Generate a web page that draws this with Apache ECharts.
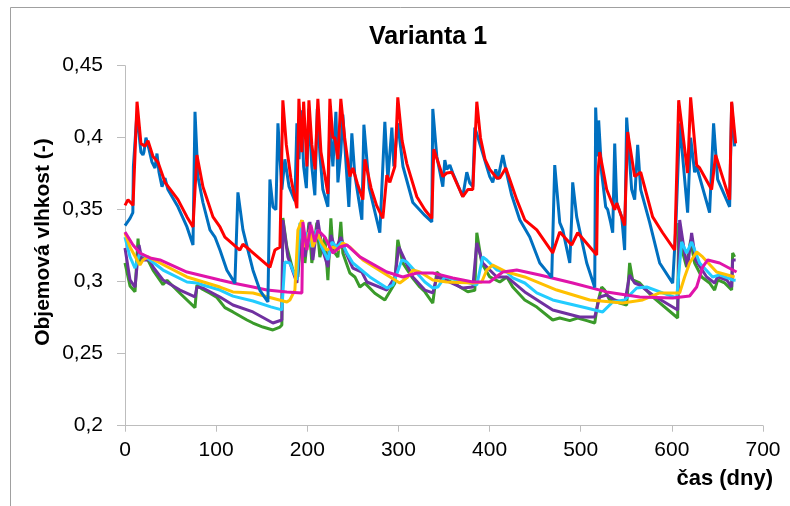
<!DOCTYPE html>
<html><head><meta charset="utf-8">
<script src="https://cdn.jsdelivr.net/npm/echarts@6/dist/echarts.min.js"></script>
<style>html,body{margin:0;padding:0;background:#fff}#c{width:790px;height:506px}</style>
</head><body><div id="c"></div>
<script>
// Data: [day, volumetric moisture]
const blueData = [[0,0.339],[5.5,0.344],[8.6,0.348],[9.2,0.38],[11,0.381],[13,0.416],[17.5,0.39],[19.7,0.388],[20.8,0.39],[23,0.4],[26.3,0.392],[29.6,0.383],[32.9,0.379],[35.1,0.389],[37.3,0.376],[40.6,0.366],[43.9,0.372],[47.1,0.364],[58.1,0.352],[68,0.338],[74.6,0.3255],[76.8,0.418],[80,0.373],[85.5,0.355],[93.2,0.336],[98.7,0.331],[104.2,0.322],[111.8,0.308],[120.6,0.299],[123.9,0.362],[129.4,0.336],[134.9,0.322],[140.4,0.308],[148,0.294],[156.8,0.286],[159,0.371],[162.3,0.352],[165.6,0.35],[167.8,0.41],[172.1,0.364],[175.4,0.385],[180,0.366],[186.4,0.356],[188.6,0.41],[191,0.385],[193,0.419],[196,0.38],[199,0.365],[201.8,0.42],[205,0.38],[208.3,0.36],[211,0.42],[214,0.387],[217.1,0.364],[222.6,0.352],[224.8,0.41],[228.1,0.38],[231.4,0.418],[233.6,0.369],[236.8,0.39],[239,0.416],[245.6,0.352],[248.9,0.403],[252,0.375],[259.9,0.343],[262.1,0.409],[268,0.365],[279.6,0.334],[285.1,0.411],[288.4,0.371],[292.8,0.407],[295,0.38],[299.3,0.41],[305,0.38],[315.8,0.355],[329,0.346],[336.6,0.3415],[337.7,0.42],[342.1,0.387],[348.7,0.366],[350.9,0.3845],[353.1,0.378],[356.4,0.381],[359.6,0.3755],[370.6,0.359],[375,0.376],[378.3,0.3685],[381.6,0.366],[383.8,0.407],[387.1,0.4005],[400.2,0.373],[403.5,0.369],[406.8,0.378],[409,0.371],[414.5,0.388],[417.8,0.378],[424.3,0.36],[433.1,0.343],[444.1,0.331],[455.1,0.313],[468.2,0.303],[471.5,0.381],[477,0.341],[480.3,0.336],[488,0.313],[490.1,0.345],[491.2,0.369],[495.6,0.345],[506.6,0.313],[515.4,0.296],[516.4,0.421],[518.6,0.387],[519.7,0.412],[523,0.3755],[527.4,0.352],[529.6,0.35],[532.9,0.341],[535.1,0.334],[537.3,0.396],[539.5,0.355],[545,0.345],[548.2,0.322],[550.4,0.414],[555.9,0.364],[559.2,0.357],[562.5,0.395],[565.8,0.364],[575.7,0.341],[586.6,0.313],[600.9,0.299],[604.2,0.336],[608.6,0.41],[617.3,0.348],[620.6,0.40],[625,0.376],[627.2,0.38],[641.4,0.348],[645.8,0.41],[650.2,0.371],[663.4,0.352],[665.6,0.424],[668.9,0.394]];

const redData = [[0,0.353],[3.3,0.357],[8.8,0.353],[13.2,0.425],[17.5,0.396],[21.9,0.394],[25.2,0.398],[30.7,0.387],[36.2,0.383],[43.9,0.369],[58.1,0.357],[68,0.345],[74.6,0.338],[78.9,0.388],[85.5,0.366],[96.5,0.345],[104.2,0.338],[109.6,0.331],[126,0.322],[129.4,0.326],[137,0.322],[159,0.31],[164.5,0.322],[170,0.324],[173.2,0.426],[177,0.395],[182,0.372],[188.6,0.351],[190.8,0.427],[194,0.39],[196,0.425],[199.6,0.38],[201.8,0.426],[205,0.395],[208.5,0.378],[211.6,0.427],[215,0.39],[222.6,0.361],[224.8,0.427],[228,0.40],[230.3,0.40],[233.6,0.385],[236.8,0.427],[241,0.40],[246.7,0.373],[250,0.379],[255,0.368],[261,0.357],[263.2,0.385],[270,0.365],[276,0.353],[282.9,0.344],[287.3,0.374],[290.6,0.369],[296.1,0.38],[299.3,0.428],[304,0.398],[309.2,0.382],[320.2,0.359],[329,0.35],[336.6,0.344],[338.8,0.392],[348.7,0.373],[353.1,0.3755],[358.6,0.376],[370.6,0.359],[376.1,0.364],[381.6,0.364],[386,0.425],[390,0.4],[395,0.385],[400.2,0.378],[407.9,0.372],[411.2,0.372],[417.8,0.379],[429.8,0.357],[438.6,0.343],[451.8,0.336],[469.3,0.32],[477,0.3345],[490.1,0.3255],[496.7,0.334],[517.5,0.3185],[518.6,0.373],[520.8,0.39],[528.5,0.364],[537.3,0.35],[539.5,0.3546],[548.2,0.339],[551.5,0.404],[559.2,0.373],[565.8,0.376],[578.9,0.345],[589.9,0.334],[603.1,0.322],[607.5,0.426],[617.3,0.3755],[620.6,0.428],[627.2,0.381],[630.5,0.379],[643.6,0.364],[648,0.388],[663.4,0.357],[665.6,0.425],[670,0.396]];

const greenData = [[0,0.313],[5.5,0.297],[11,0.293],[14.3,0.33],[16.4,0.313],[18.6,0.317],[25.2,0.315],[30.7,0.308],[41.7,0.298],[46.1,0.301],[60.3,0.292],[76.8,0.282],[78.9,0.2977],[84.4,0.295],[93.2,0.292],[100.9,0.289],[109.6,0.282],[118.4,0.279],[133.8,0.2734],[140.4,0.2713],[151.3,0.2685],[162.3,0.2665],[170,0.2685],[172.1,0.27],[173.2,0.3442],[177.6,0.324],[184.2,0.308],[189.7,0.3033],[194.1,0.3428],[197.4,0.313],[201.8,0.341],[205,0.313],[210.5,0.341],[213.8,0.317],[219.3,0.331],[222.6,0.301],[225.9,0.344],[228.1,0.322],[233.6,0.317],[236.8,0.3415],[239,0.32],[246.7,0.306],[252.2,0.3033],[257.7,0.2963],[263.2,0.299],[274.1,0.292],[285.1,0.2873],[296.1,0.299],[299.3,0.329],[304.8,0.313],[314.7,0.3033],[323.5,0.2963],[329,0.293],[337.7,0.2852],[342.1,0.3067],[347.6,0.3033],[364,0.2977],[376.1,0.293],[383.8,0.294],[386,0.334],[391.4,0.313],[400.2,0.3033],[411.2,0.2998],[418.9,0.3033],[425.4,0.2963],[438.6,0.2873],[451.8,0.2824],[469.3,0.2734],[477,0.2748],[488,0.273],[496.7,0.2748],[506.6,0.273],[515.4,0.2713],[518.6,0.2852],[523,0.2963],[526.3,0.2942],[531.8,0.2873],[542.8,0.2852],[550.4,0.2838],[553.7,0.313],[557,0.3012],[564.7,0.2991],[578.9,0.2894],[606.4,0.2748],[607.5,0.3408],[612,0.32],[616.2,0.3102],[620.6,0.329],[625,0.313],[632.7,0.3033],[641.4,0.2991],[646.9,0.2942],[650.2,0.3012],[657.9,0.2991],[665.6,0.2942],[666.7,0.3199],[668.9,0.3172]];

const purpleData = [[0,0.3234],[5.5,0.3012],[11,0.2963],[15.4,0.3255],[18.6,0.315],[27.4,0.315],[30.7,0.3102],[41.7,0.3012],[60.3,0.2942],[76.8,0.2894],[78.9,0.2963],[85.5,0.2956],[104.2,0.2894],[118.4,0.2838],[140.4,0.279],[162.3,0.2713],[172.1,0.2734],[173.2,0.3428],[178.7,0.3172],[188.6,0.2991],[194.1,0.3415],[197.4,0.3172],[202.9,0.3415],[206.1,0.3151],[211.6,0.3428],[216,0.3241],[222.6,0.3102],[225.9,0.3324],[231,0.322],[236.8,0.331],[241.2,0.322],[250,0.3095],[259.9,0.3067],[265.4,0.2998],[287.3,0.2942],[296.1,0.3033],[300.4,0.3241],[307,0.3151],[315.8,0.3033],[329,0.2942],[337.7,0.2922],[342.1,0.3033],[350.9,0.3012],[370.6,0.2956],[381.6,0.2963],[386,0.3269],[392.5,0.313],[407.9,0.3033],[418.9,0.3033],[438.6,0.2929],[469.3,0.2804],[498.9,0.2755],[515.4,0.2755],[520.8,0.2894],[528.5,0.2908],[537.3,0.2873],[548.2,0.2852],[553.7,0.3047],[559.2,0.2991],[564.7,0.2977],[578.9,0.2908],[606.4,0.2804],[608.6,0.3428],[614,0.3199],[617.3,0.3102],[621.7,0.3338],[626.1,0.3151],[638.2,0.3033],[646.9,0.2991],[650.2,0.3033],[660.1,0.3012],[665.6,0.2963],[666.7,0.3151],[670,0.3151]];

const cyanData = [[0,0.331],[5.5,0.3172],[11,0.3095],[16.4,0.3199],[27.4,0.3151],[41.7,0.3081],[68,0.2998],[78.9,0.2991],[85.5,0.2977],[104.2,0.2942],[118.4,0.29],[140.4,0.2866],[160,0.2825],[172.1,0.2804],[175.4,0.3137],[180.9,0.313],[188.6,0.3012],[191.9,0.3408],[195.2,0.3269],[200.7,0.3338],[205,0.3241],[210.5,0.3359],[216,0.3241],[222.6,0.3151],[227,0.3276],[232.5,0.3241],[237.9,0.3276],[243.4,0.3199],[250,0.313],[268.6,0.3033],[287.3,0.2956],[293.9,0.2977],[303.7,0.3151],[309.2,0.3137],[320.2,0.306],[329,0.2998],[337.7,0.2956],[343.2,0.2963],[350.9,0.3033],[364,0.3012],[378.3,0.2991],[386,0.2977],[392.5,0.3172],[396.9,0.3151],[407.9,0.3081],[418.9,0.3067],[425.4,0.3026],[438.6,0.2991],[451.8,0.2922],[469.3,0.2873],[506.6,0.2817],[524.1,0.279],[535.1,0.2859],[548.2,0.2873],[561.4,0.2956],[572.4,0.2963],[589.9,0.2922],[605.3,0.2887],[610.7,0.3276],[616.2,0.3199],[621.7,0.3276],[630.5,0.313],[644.7,0.3033],[652.4,0.3047],[666.7,0.3012],[670,0.301]];

const yellowData = [[0,0.3338],[5.5,0.3241],[13.2,0.3151],[16.4,0.3116],[19.7,0.3151],[25.2,0.3172],[38.4,0.313],[68,0.3033],[104.2,0.2963],[118.4,0.2929],[140.4,0.2922],[177.6,0.2859],[180.9,0.2873],[186.4,0.2942],[189.7,0.3359],[194.1,0.3428],[197.4,0.3241],[202.9,0.3359],[206.1,0.3241],[211.6,0.333],[216,0.327],[221.5,0.322],[228.1,0.3241],[233.6,0.322],[239,0.3269],[246.7,0.3241],[261,0.3151],[287.3,0.3047],[301.5,0.2991],[310.3,0.3033],[315.8,0.3081],[323.5,0.3067],[329,0.3047],[337.7,0.3012],[353.1,0.2998],[381.6,0.2991],[391.4,0.2998],[396.9,0.3081],[403.5,0.3116],[418.9,0.3067],[438.6,0.3033],[473.7,0.2942],[509.9,0.2873],[546.1,0.2852],[568,0.2873],[586.6,0.2922],[608.6,0.2922],[614,0.3033],[619.5,0.313],[627.2,0.3206],[633.8,0.3172],[649.1,0.3067],[668.9,0.3033]];

const magentaData = [[0,0.3345],[8.8,0.3255],[16.4,0.3199],[27.4,0.3165],[38.4,0.3151],[68,0.3067],[104.2,0.3012],[118.4,0.2991],[140.4,0.2963],[155.7,0.2942],[177.6,0.2929],[194.1,0.2922],[195.2,0.3415],[199.6,0.322],[203.9,0.3394],[208.3,0.3276],[211.6,0.3359],[219.3,0.331],[228.1,0.3199],[235.7,0.3241],[243.4,0.3255],[257.7,0.3172],[287.3,0.3067],[304.8,0.3033],[320.2,0.306],[337.7,0.306],[359.6,0.3026],[381.6,0.2998],[400,0.2998],[414.5,0.3067],[429.8,0.3081],[455.1,0.3047],[491.2,0.2991],[528.5,0.2929],[564.7,0.2894],[600.9,0.2887],[619.5,0.2901],[627.2,0.2963],[633.8,0.3102],[639.3,0.3151],[652.4,0.313],[671,0.3067]];

const titleText = 'Varianta 1';
const xAxisTitle = 'čas (dny)';
const yAxisTitle = 'Objemová vlhkost (-)';
const xRange = [0, 700, 100];
const yRange = [0.2, 0.45, 0.05];

const FONT = '"Liberation Sans", Arial, sans-serif';
const chart = echarts.init(document.getElementById('c'), null, {renderer: 'canvas'});

function line(name, data, color) {
  return {name, type: 'line', data, symbol: 'none', showSymbol: false,
    lineStyle: {color, width: 3}, itemStyle: {color}, animation: false, z: 2};
}

chart.setOption({
  animation: false,
  backgroundColor: '#fff',
  grid: {left: 125, right: 27, top: 65.7, bottom: 80.3, containLabel: false},
  xAxis: {type: 'value', min: xRange[0], max: xRange[1], interval: xRange[2],
    axisLine: {show: true, lineStyle: {color: '#bdbdbd', width: 1}},
    axisTick: {show: true, length: 6, lineStyle: {color: '#bdbdbd'}},
    splitLine: {show: false},
    axisLabel: {fontFamily: FONT, fontSize: 21, color: '#000', margin: 14}},
  yAxis: {type: 'value', min: yRange[0], max: yRange[1], interval: yRange[2],
    axisLine: {show: true, lineStyle: {color: '#bdbdbd', width: 1}},
    axisTick: {show: true, length: 8, lineStyle: {color: '#bdbdbd'}},
    splitLine: {show: false},
    axisLabel: {fontFamily: FONT, fontSize: 21, color: '#000', margin: 22,
      formatter: v => String(+(+v).toFixed(2)).replace('.', ',')}},
  series: [
    line('green', greenData, '#3A9A2A'),
    line('purple', purpleData, '#7030A0'),
    line('cyan', cyanData, '#22CCFF'),
    line('yellow', yellowData, '#FFC000'),
    line('magenta', magentaData, '#E014AA'),
    line('blue', blueData, '#0070C0'),
    line('red', redData, '#FF0000')
  ],
  graphic: [
    {type: 'rect', left: 8, top: 5, z: 0, silent: true,
      shape: {x: 0, y: 0, width: 800, height: 520},
      style: {fill: 'none', stroke: '#a0a0a0', lineWidth: 1}},
    {type: 'text', x: 428, y: 37, silent: true,
      style: {text: titleText, font: 'bold 25px ' + FONT, fill: '#000', textAlign: 'center', textVerticalAlign: 'middle'}},
    {type: 'text', x: 773, y: 479, silent: true,
      style: {text: xAxisTitle, font: 'bold 22px ' + FONT, fill: '#000', textAlign: 'right', textVerticalAlign: 'middle'}},
    {type: 'text', x: 43.5, y: 242, rotation: Math.PI / 2, silent: true,
      style: {text: yAxisTitle, font: 'bold 21px ' + FONT, fill: '#000', textAlign: 'center', textVerticalAlign: 'middle'}}
  ]
});
</script></body></html>
